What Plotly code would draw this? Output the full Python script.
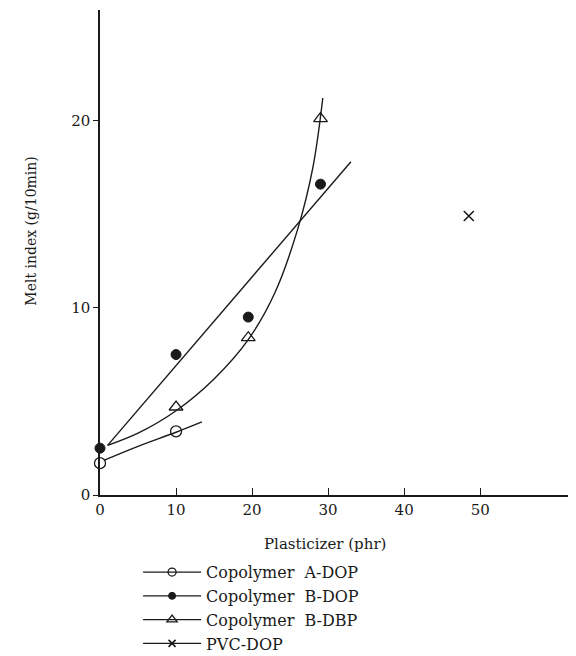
import plotly.graph_objects as go

# ---- data ----
a_dop_x = [0, 10]
a_dop_y = [1.7, 3.4]
b_dop_x = [0, 10, 19.5, 29]
b_dop_y = [2.5, 7.5, 9.5, 16.6]
b_dbp_x = [10, 19.5, 29]
b_dbp_y = [4.7, 8.4, 20.1]
pvc_x = [48.5]
pvc_y = [14.9]

# drawn fit lines
a_fit_x = [0.5, 5, 10, 13.4]
a_fit_y = [1.85, 2.6, 3.35, 3.9]
b_dop_fit_x = [1, 33]
b_dop_fit_y = [2.65, 17.8]
b_dbp_fit_x = [1, 5, 10, 15, 19.5, 23, 26, 28, 29.3]
b_dbp_fit_y = [2.65, 3.3, 4.5, 6.2, 8.3, 10.8, 14.2, 17.5, 21.2]

x_ticks = [0, 10, 20, 30, 40, 50]
y_ticks = [0, 10, 20]

names = ["Copolymer  A-DOP", "Copolymer  B-DOP", "Copolymer  B-DBP", "PVC-DOP"]

FONT = "DejaVu Serif, Liberation Serif, serif"
ink = "#1a1a1a"

fig = go.Figure()
line = dict(color=ink, width=1.4)

# fit lines
fig.add_trace(go.Scatter(x=a_fit_x, y=a_fit_y, mode="lines", line=dict(shape="spline", **line), showlegend=False))
fig.add_trace(go.Scatter(x=b_dop_fit_x, y=b_dop_fit_y, mode="lines", line=line, showlegend=False))
fig.add_trace(go.Scatter(x=b_dbp_fit_x, y=b_dbp_fit_y, mode="lines", line=dict(shape="spline", **line), showlegend=False))

markers = [
    dict(symbol="circle-open", size=11, color=ink, line=dict(width=1.3, color=ink)),
    dict(symbol="circle", size=10, color=ink, line=dict(width=1, color=ink)),
    dict(symbol="triangle-up-open", size=12, color=ink, line=dict(width=1.3, color=ink)),
    dict(symbol="x-thin", size=10, color=ink, line=dict(width=1.6, color=ink)),
]
data = [(a_dop_x, a_dop_y), (b_dop_x, b_dop_y), (b_dbp_x, b_dbp_y), (pvc_x, pvc_y)]

for (xs, ys), mk in zip(data, markers):
    fig.add_trace(go.Scatter(x=xs, y=ys, mode="markers", marker=mk, showlegend=False, cliponaxis=False))

# legend entries
for name, mk in zip(names, markers):
    lm = dict(mk)
    lm["size"] = max(mk["size"] - 3, 6)
    fig.add_trace(go.Scatter(x=[None], y=[None], mode="lines+markers", name=name,
                             line=dict(color=ink, width=1.3), marker=lm))

fig.update_layout(
    width=576, height=656,
    margin=dict(l=92, r=8, t=2, b=169),
    plot_bgcolor="white", paper_bgcolor="white",
    font=dict(family=FONT, size=15, color=ink),
    xaxis=dict(range=[0, 62.6], tickvals=x_ticks, ticktext=[str(v) for v in x_ticks],
               showgrid=False, zeroline=False, showline=True, linecolor=ink, linewidth=1.5,
               ticks="inside", ticklen=7, tickcolor=ink, tickfont=dict(size=15, family=FONT)),
    yaxis=dict(range=[0, 25.9], tickvals=y_ticks, ticktext=[str(v) for v in y_ticks],
               showgrid=False, zeroline=False, showline=True, linecolor=ink, linewidth=1.5,
               ticks="outside", ticklen=5, tickcolor=ink, tickfont=dict(size=15, family=FONT)),
    legend=dict(x=0.08, y=-0.124, xanchor="left", yanchor="top", bgcolor="rgba(0,0,0,0)",
                font=dict(size=16, family=FONT), itemwidth=58, tracegroupgap=0),
    showlegend=True,
)

fig.add_annotation(text="Plasticizer (phr)", xref="paper", yref="paper", x=0.473, y=-0.1,
                   showarrow=False, font=dict(size=15, family=FONT), xanchor="center", yanchor="middle")
fig.add_annotation(text="Melt index (g/10min)", xref="paper", yref="paper", x=-0.145, y=0.545,
                   textangle=-90, showarrow=False, font=dict(size=14, family=FONT),
                   xanchor="center", yanchor="middle")

fig.write_html("out.html")
